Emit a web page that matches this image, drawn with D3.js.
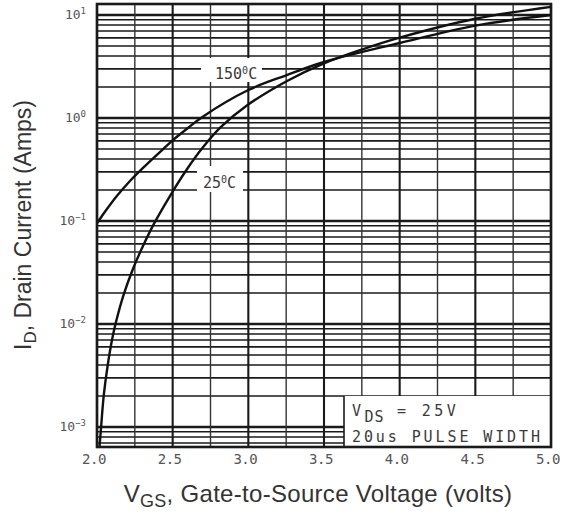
<!DOCTYPE html>
<html><head><meta charset="utf-8">
<script src="https://cdn.jsdelivr.net/npm/d3@7"></script>
<style>body{margin:0;background:#fff}svg{display:block}</style>
</head><body><svg id="c" width="570" height="514"></svg>
<script>
// ---- data ----
const xTickValues = [2.0, 2.5, 3.0, 3.5, 4.0, 4.5, 5.0];
const xTickLabels = ["2.0", "2.5", "3.0", "3.5", "4.0", "4.5", "5.0"];
const yTickValues = [1e1, 1e0, 1e-1, 1e-2, 1e-3];
const yTickExponents = ["1", "0", "\u22121", "\u22122", "\u22123"];
const vgs25 = [2.0165, 2.027, 2.045, 2.071, 2.099, 2.125, 2.173, 2.240, 2.307, 2.383, 2.490, 2.591, 2.691, 2.819, 2.986, 3.256, 3.5, 3.75, 4.0, 4.5, 5.0];
const id25  = [6.4e-4, 1.0e-3, 2.05e-3, 4.0e-3, 7.0e-3, 0.0104, 0.0187, 0.035, 0.0585, 0.098, 0.183, 0.313, 0.50, 0.82, 1.31, 2.29, 3.39, 4.62, 6.03, 9.2, 12.0];
const vgs150 = [2.0, 2.056, 2.131, 2.218, 2.317, 2.423, 2.502, 2.601, 2.694, 3.0, 3.25, 3.5, 4.0, 4.5, 5.0];
const id150  = [0.095, 0.125, 0.175, 0.245, 0.342, 0.478, 0.611, 0.80, 1.02, 1.87, 2.6, 3.5, 5.35, 7.9, 10.0];
const seriesLabels = ["150", "25"];
const noteLine1 = ["V", "DS", " = 25V"];
const noteLine2 = "20us PULSE WIDTH";

// ---- chart ----
const svg = d3.select("#c");
const L = 97, R = 551, T = 4, B = 447;
const x = d3.scaleLinear([2, 5], [L, R]);
const y = d3.scaleLog([6.4e-4, 12.8], [B, T]);
const ink = "#1a1a1a";

const grid = svg.append("g");
const minor = [];
for (let e = -4; e <= 1; e++) for (let k = 1; k <= 9; k++) {
  const v = k * Math.pow(10, e);
  if (v >= 6.4e-4 && v <= 12.8) minor.push({v, major: k === 1});
}
grid.selectAll("line.h").data(minor).join("line")
  .attr("x1", L).attr("x2", R)
  .attr("y1", d => y(d.v)).attr("y2", d => y(d.v))
  .attr("stroke", ink).attr("stroke-width", d => d.major ? 2.6 : 1.6);
const vlines = d3.range(2, 5.001, 0.25);
grid.selectAll("line.v").data(vlines).join("line")
  .attr("x1", d => x(d)).attr("x2", d => x(d))
  .attr("y1", T).attr("y2", B)
  .attr("stroke", (d) => (Math.round(d * 4) % 2 === 0) ? ink : "#333")
  .attr("stroke-width", (d) => (Math.round(d * 4) % 2 === 0) ? 2.1 : 1.4);

// note box
svg.append("rect").attr("x", 344).attr("y", 396).attr("width", R - 344).attr("height", B - 396).attr("fill", "#fff");
svg.append("line").attr("x1", 344).attr("x2", 344).attr("y1", 396).attr("y2", B).attr("stroke", ink).attr("stroke-width", 1.6);

// curves
const line = d3.line().x(d => x(d[0])).y(d => y(d[1])).curve(d3.curveCatmullRom.alpha(0.5));
const s25 = vgs25.map((v, i) => [v, id25[i]]);
const s150 = vgs150.map((v, i) => [v, id150[i]]);
svg.append("path").attr("d", line(s25)).attr("fill", "none").attr("stroke", "#111").attr("stroke-width", 2.4);
svg.append("path").attr("d", line(s150)).attr("fill", "none").attr("stroke", "#111").attr("stroke-width", 2.4);

// frame
svg.append("rect").attr("x", L).attr("y", T).attr("width", R - L).attr("height", B - T)
  .attr("fill", "none").attr("stroke", ink).attr("stroke-width", 2.6);

// curve labels
const mono = "'DejaVu Sans Mono', monospace";
function degLabel(txt, cx, cy, bx, by, bw, bh) {
  svg.append("rect").attr("x", bx).attr("y", by).attr("width", bw).attr("height", bh).attr("fill", "#fff");
  const t = svg.append("text").attr("x", cx).attr("y", cy).attr("font-family", mono)
    .attr("font-size", 15).attr("fill", "#3a3a3a");
  t.append("tspan").text(txt);
  t.append("tspan").attr("dy", -5).attr("font-size", 10).text("0");
  t.append("tspan").attr("dy", 5).text("C");
}
degLabel(seriesLabels[0], 215, 79, 201, 58, 61, 24);
degLabel(seriesLabels[1], 203, 188, 197, 166, 46, 26);

// note text
const n1 = svg.append("text").attr("x", 352).attr("y", 416).attr("font-family", mono)
  .attr("font-size", 15).attr("fill", "#3a3a3a").attr("letter-spacing", 3.4);
n1.append("tspan").text(noteLine1[0]);
n1.append("tspan").attr("dy", 6).attr("letter-spacing", 1).text(noteLine1[1]);
n1.append("tspan").attr("dy", -6).text(noteLine1[2]);
svg.append("text").attr("x", 352).attr("y", 442).attr("font-family", mono)
  .attr("font-size", 15).attr("fill", "#3a3a3a").attr("letter-spacing", 2.9).text(noteLine2);

// x tick labels
svg.selectAll("text.xt").data(xTickValues).join("text")
  .attr("x", d => x(d) - 3).attr("y", 464).attr("text-anchor", "middle")
  .attr("font-family", mono).attr("font-size", 14).attr("letter-spacing", -0.5).attr("fill", "#555")
  .text((d, i) => xTickLabels[i]);

// y tick labels
yTickValues.forEach((v, i) => {
  const t = svg.append("text").attr("x", 86).attr("y", y(v) + 4).attr("text-anchor", "end")
    .attr("font-family", mono).attr("font-size", 13).attr("fill", "#555");
  t.append("tspan").text("10");
  t.append("tspan").attr("dy", -5).attr("font-size", 9).text(yTickExponents[i]);
});

// axis titles
const sans = "'Liberation Sans', Arial, Helvetica, sans-serif";
const xt = svg.append("text").attr("x", 318).attr("y", 502).attr("text-anchor", "middle")
  .attr("font-family", sans).attr("font-size", 24).attr("letter-spacing", 0.3).attr("fill", "#333");
xt.append("tspan").text("V");
xt.append("tspan").attr("dy", 5).attr("font-size", 18).text("GS");
xt.append("tspan").attr("dy", -5).text(", Gate-to-Source Voltage (volts)");

const yt = svg.append("text").attr("transform", "translate(31,225) rotate(-90)").attr("text-anchor", "middle")
  .attr("font-family", sans).attr("font-size", 23).attr("fill", "#333");
yt.append("tspan").text("I");
yt.append("tspan").attr("dy", 5).attr("font-size", 17).text("D");
yt.append("tspan").attr("dy", -5).text(", Drain Current (Amps)");
</script>
</body></html>
